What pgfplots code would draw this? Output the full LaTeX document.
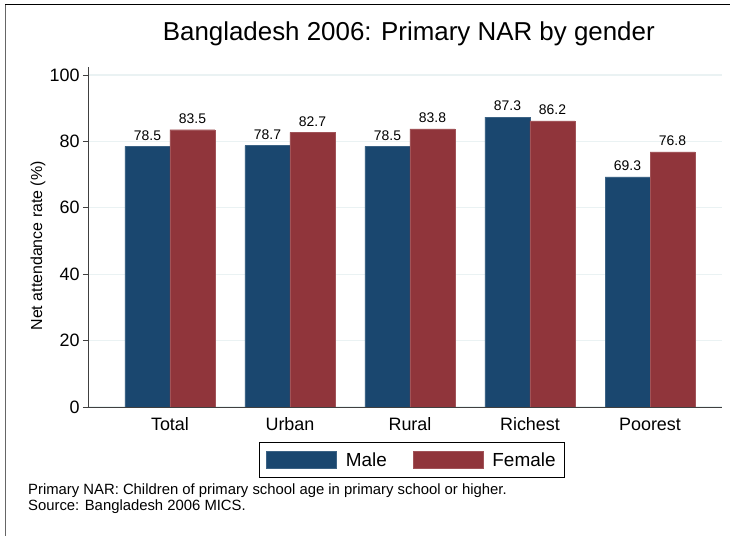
\documentclass[border=0pt]{standalone}
\usepackage{pgfplots}
\pgfplotsset{compat=1.18}
\usepackage{fontspec}
\setmainfont{Liberation Sans}
\definecolor{stnavy}{RGB}{26,71,111}
\definecolor{stmaroon}{RGB}{144,53,59}
\definecolor{stgrid}{RGB}{234,242,243}
\begin{document}
\begin{tikzpicture}
\path[use as bounding box] (0,0) rectangle (730bp,536bp);
\draw[black, line width=1bp] (5bp,531bp) -- (730bp,531bp);
\draw[gray!80!black, line width=1bp] (5bp,0bp) -- (5bp,531bp);
\begin{axis}[
  at={(88bp,129bp)}, anchor=south west,
  scale only axis, width=634bp, height=340bp,
  xmin=-0.683, xmax=4.6, ymin=0, ymax=102.4,
  ybar=0pt, bar width=45bp,
  axis x line*=bottom, axis y line*=left,
  axis line style={-, draw=black!75, line width=0.9bp},
  xtick=data, xticklabels={Total,Urban,Rural,Richest,Poorest},
  xtick style={draw=none},
  ytick={0,20,40,60,80,100},
  tick align=outside, major tick length=5bp,
  ytick style={draw=black!75, line width=0.9bp},
  ymajorgrids, grid style={draw=stgrid, line width=1.2bp},
  /pgf/number format/assume math mode=true,
  ticklabel style={font=\fontsize{18}{18}\selectfont},
  xticklabel style={yshift=-2bp, text depth=0pt, text height=13bp},
  ylabel={Net attendance rate (\%)},
  ylabel style={at={(axis description cs:-0.0789,0.474)}, anchor=center, font=\fontsize{16}{16}\selectfont},
  title={Bangladesh 2006: Primary NAR by gender},
  title style={at={(axis description cs:0.506,1.079)}, anchor=center, font=\fontsize{26}{26}\selectfont},
  nodes near coords={\pgfmathprintnumber[fixed,fixed zerofill,precision=1,assume math mode=true]{\pgfplotspointmeta}},
  every node near coord/.append style={font=\fontsize{14}{14}\selectfont, inner sep=0pt, yshift=6bp, black},
  legend columns=2,
  legend image code/.code={\draw[#1, line width=0.5bp] (0bp,-8.5bp) rectangle (70bp,8.5bp);},
  legend style={at={(0.511,-0.156)}, anchor=center, draw=black, line width=0.9bp,
    inner xsep=7bp, inner ysep=8bp, font=\fontsize{19}{19}\selectfont,
    /tikz/every odd column/.append style={column sep=7bp},
    /tikz/every even column/.append style={column sep=24bp}},
]
\addplot[fill=stnavy, draw=stnavy!85!white] coordinates {(0,78.5) (1,78.7) (2,78.5) (3,87.3) (4,69.3)};
\addplot[fill=stmaroon, draw=stmaroon!85!white] coordinates {(0,83.5) (1,82.7) (2,83.8) (3,86.2) (4,76.8)};
\legend{Male,Female}
\end{axis}
\node[anchor=north west, align=left, inner sep=0pt, font=\fontsize{14.9}{16}\selectfont] at (28bp,52bp)
  {Primary NAR: Children of primary school age in primary school or higher.\\Source: Bangladesh 2006 MICS.};
\end{tikzpicture}
\end{document}
